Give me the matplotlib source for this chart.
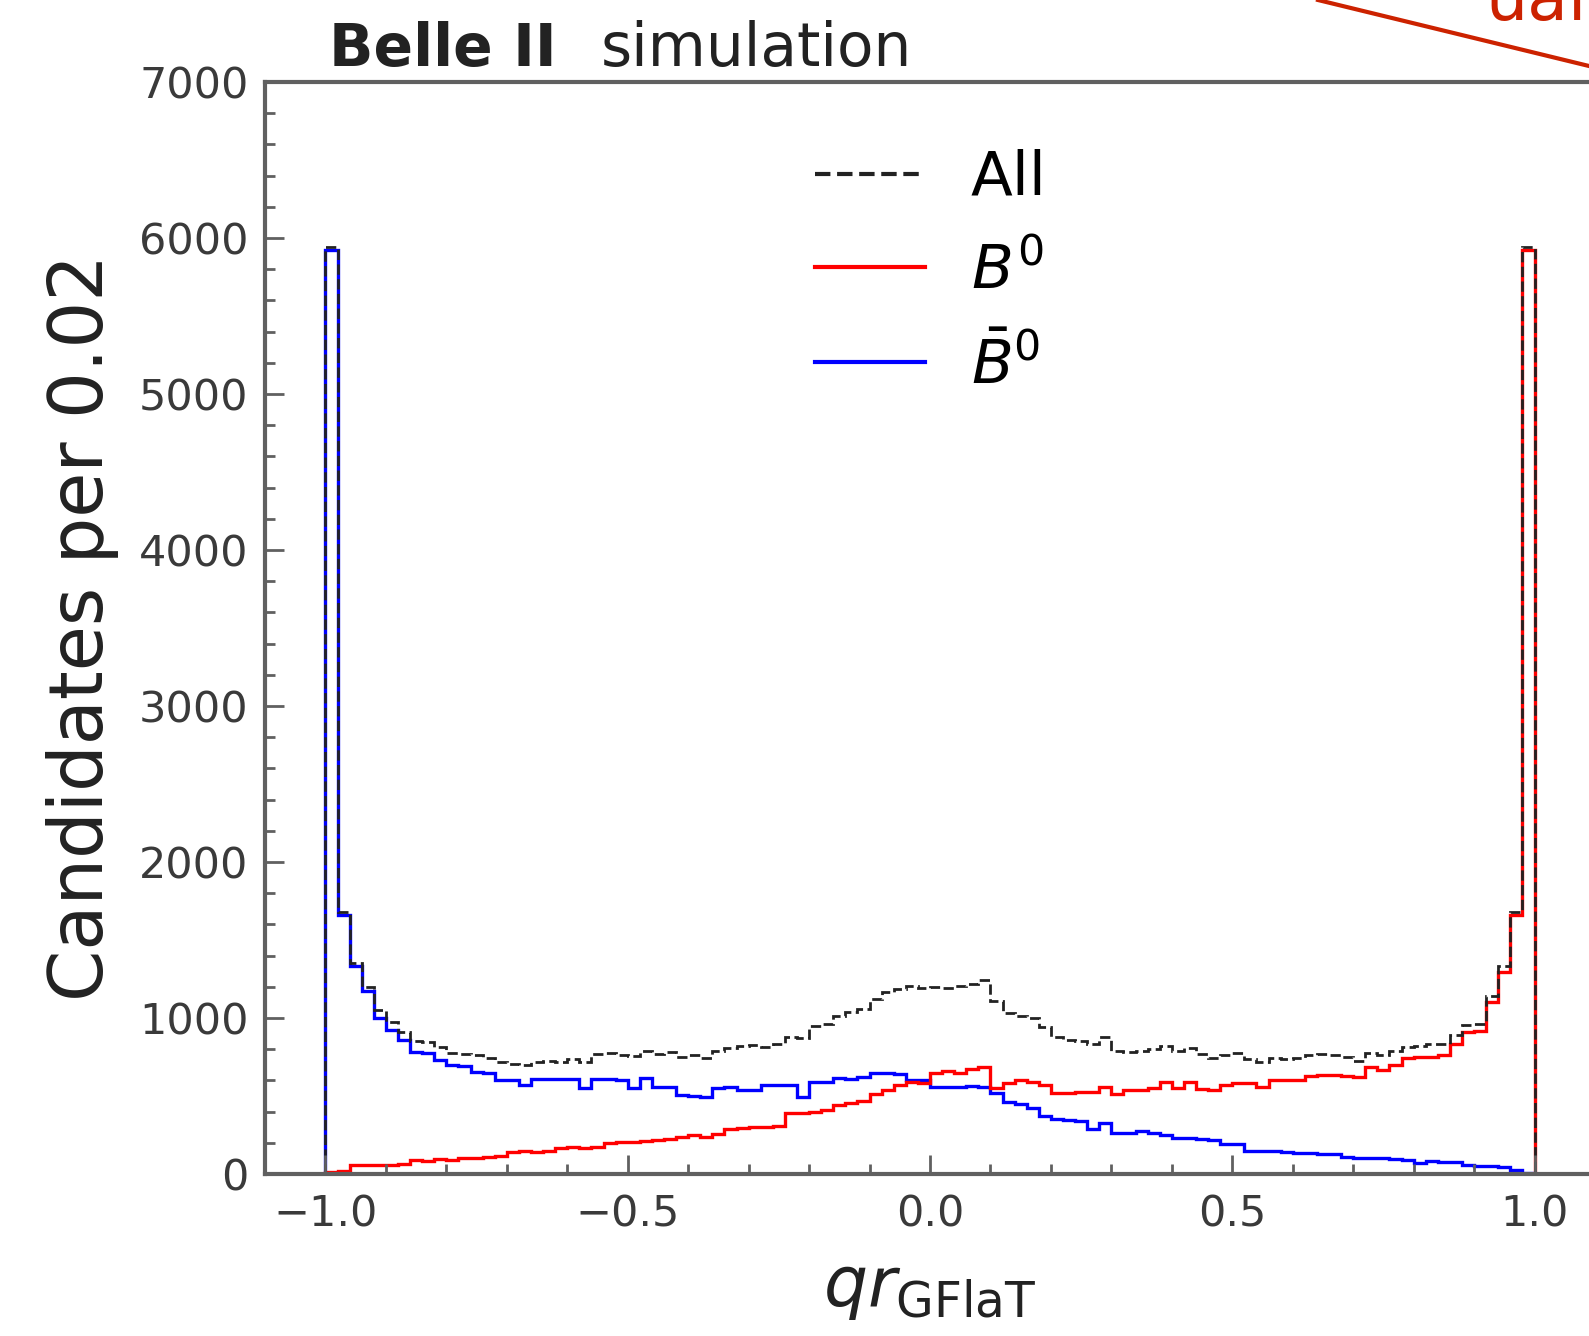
import numpy as np
import matplotlib
matplotlib.use("Agg")
import matplotlib.pyplot as plt
from matplotlib.lines import Line2D
from matplotlib.ticker import MultipleLocator

# 100 bins of width 0.02 on [-1, 1]
bin_edges = np.linspace(-1.0, 1.0, 101)

b0bar = [5920, 1660, 1330, 1170, 1000, 920, 860, 780, 775, 730,
         700, 695, 655, 650, 605, 600, 570, 610, 610, 610,
         610, 550, 610, 610, 600, 550, 615, 560, 560, 505,
         500, 494, 550, 560, 540, 535, 570, 570, 570, 495,
         590, 590, 615, 610, 620, 645, 650, 640, 605, 600,
         560, 555, 560, 565, 560, 520, 460, 450, 420, 370,
         350, 345, 340, 285, 325, 265, 260, 275, 263, 250,
         232, 230, 225, 215, 190, 195, 150, 145, 145, 140,
         135, 135, 130, 125, 110, 105, 100, 100, 95, 90,
         70, 80, 78, 75, 55, 50, 48, 42, 28, 8]

b0 = [10, 20, 55, 60, 55, 60, 65, 90, 85, 95,
      90, 105, 100, 110, 115, 140, 145, 140, 150, 165,
      170, 165, 175, 200, 205, 205, 210, 220, 225, 235,
      250, 240, 255, 290, 295, 300, 300, 310, 390, 390,
      395, 410, 440, 455, 470, 510, 540, 570, 590, 585,
      650, 660, 650, 670, 685, 550, 580, 600, 590, 570,
      520, 520, 525, 525, 560, 510, 535, 540, 551, 590,
      551, 590, 545, 540, 570, 580, 585, 560, 600, 600,
      605, 630, 635, 635, 630, 620, 685, 665, 700, 745,
      750, 750, 760, 830, 910, 915, 1100, 1295, 1660, 5920]

all_cand = [5940, 1680, 1350, 1200, 1050, 975, 910, 850, 845, 815,
            775, 770, 760, 740, 715, 705, 700, 720, 725, 720,
            735, 715, 770, 775, 765, 755, 790, 770, 780, 750,
            760, 740, 790, 810, 820, 825, 815, 835, 880, 870,
            950, 960, 1010, 1040, 1060, 1120, 1165, 1185, 1205, 1195,
            1200, 1190, 1205, 1215, 1245, 1110, 1030, 1015, 1000, 940,
            880, 860, 850, 830, 880, 790, 780, 790, 800, 820,
            785, 810, 770, 740, 760, 775, 735, 715, 740, 735,
            745, 760, 770, 765, 750, 725, 775, 760, 790, 815,
            820, 830, 835, 890, 955, 960, 1140, 1330, 1680, 5940]

x_ticks = [-1.0, -0.5, 0.0, 0.5, 1.0]
y_ticks = [0, 1000, 2000, 3000, 4000, 5000, 6000, 7000]

spine_col = "#606060"
text_col = "#3a3a3a"

fig = plt.figure(figsize=(15.89, 13.36), dpi=100)
ax = fig.add_axes([0.1668, 0.1213, 0.837, 0.8174])

ax.stairs(b0bar, bin_edges, color="blue", lw=2.4, baseline=0)
ax.stairs(b0, bin_edges, color="red", lw=2.4, baseline=0)
ax.stairs(all_cand, bin_edges, color="#222222", lw=2.0, ls="--", baseline=0)

ax.set_xlim(-1.1, 1.1)
ax.set_ylim(0, 7000)
ax.set_xticks(x_ticks)
ax.set_yticks(y_ticks)
ax.xaxis.set_minor_locator(MultipleLocator(0.1))
ax.yaxis.set_minor_locator(MultipleLocator(200))
ax.tick_params(which="both", direction="in", color=spine_col, width=2,
               labelsize=31, labelcolor=text_col, top=False, right=False)
ax.tick_params(which="major", length=14)
ax.tick_params(which="minor", length=7)
ax.tick_params(axis="y", pad=12)
ax.tick_params(axis="x", pad=14)
for s in ax.spines.values():
    s.set_color(spine_col)
    s.set_linewidth(3)

ax.set_ylabel("Candidates per 0.02", fontsize=53, color="#222222", labelpad=14)
ax.set_xlabel(r"$qr_{\mathrm{GFlaT}}$", fontsize=50, color="#222222", labelpad=14)

handles = [Line2D([], [], color="#222222", lw=3, ls="--"),
           Line2D([], [], color="red", lw=3),
           Line2D([], [], color="blue", lw=3)]
ax.legend(handles, ["All", r"$B^0$", r"$\bar{B}^0$"], loc="upper left",
          bbox_to_anchor=(0.372, 0.989), frameon=False, fontsize=44,
          handlelength=1.8, handletextpad=0.75, labelspacing=0.57)

fig.text(0.207, 1 - 66 / 1336, "Belle II", fontsize=42, fontweight="bold",
         color="#222222", va="baseline")
fig.text(0.378, 1 - 66 / 1336, "simulation", fontsize=43,
         color="#222222", va="baseline")

# slide annotation remnants at the top right
fig.add_artist(Line2D([1318 / 1589, 1.0], [1.0, 1 - 66 / 1336],
                      transform=fig.transFigure, color="#cc2200", lw=3))
fig.text(1485 / 1589, 1 - 20 / 1336, "ual", fontsize=48, color="#cc2200",
         va="baseline")

fig.savefig("out.png", dpi=100)
